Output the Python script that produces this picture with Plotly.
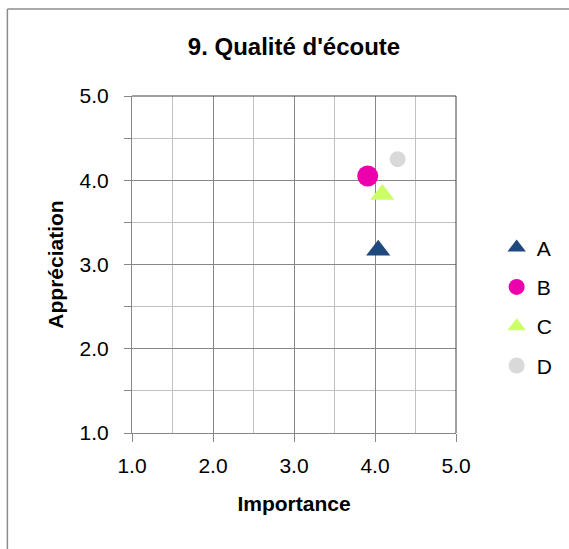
import plotly.graph_objects as go

series_names = ["A", "B", "C", "D"]
importance = [4.04, 3.91, 4.09, 4.28]
appreciation = [3.17, 4.05, 3.83, 4.25]
colors = ["#1F497D", "#EC00AC", "#CCFF66", "#D9D9D9"]
symbols = ["triangle-up", "circle", "triangle-up", "circle"]
sizes = [21, 21, 21, 16]
tick_vals = [1.0, 2.0, 3.0, 4.0, 5.0]
tick_text = ["1.0", "2.0", "3.0", "4.0", "5.0"]

FONT = "Liberation Sans, Arial, sans-serif"

fig = go.Figure()
for name, x, y, c, s, sz in zip(series_names, importance, appreciation, colors, symbols, sizes):
    fig.add_trace(go.Scatter(
        x=[x], y=[y], mode="markers", name=name, legendgroup=name,
        marker=dict(color=c, symbol=s, size=sz, line=dict(width=0)),
    ))

major_grid = "#878787"
minor_grid = "#C0C0C0"

W, H = 569, 549
L, T = 132, 96
PW, PH = 325, 337

border_top = (T + PH - 9) / PH
border_left = (7 - L) / PW

fig.update_layout(
    width=W, height=H,
    margin=dict(l=L, r=W - L - PW, t=T, b=H - T - PH),
    paper_bgcolor="white", plot_bgcolor="white",
    font=dict(family=FONT, size=21, color="black"),
    title=dict(text="<b>9. Qualité d'écoute</b>", x=0.5, xref="paper",
               y=1 - 47 / H, yref="container", yanchor="middle",
               font=dict(size=24, family=FONT, color="black")),
    showlegend=True,
    legend=dict(x=1.122, xanchor="left", y=0.374, yanchor="middle",
                traceorder="grouped", tracegroupgap=9,
                font=dict(size=21, family=FONT, color="black"),
                bgcolor="rgba(0,0,0,0)"),
    xaxis=dict(range=[1, 5], tickvals=tick_vals, ticktext=tick_text,
               showgrid=True, gridcolor=major_grid, gridwidth=1,
               showline=True, linecolor=major_grid, linewidth=1,
               ticks="outside", ticklen=8, tickcolor=major_grid,
               zeroline=False, ticklabelstandoff=6,
               minor=dict(dtick=0.5, showgrid=True, gridcolor=minor_grid, ticks=""),
               title=dict(text="<b>Importance</b>", standoff=20,
                          font=dict(size=21, family=FONT))),
    yaxis=dict(range=[1, 5], tickvals=tick_vals, ticktext=tick_text,
               showgrid=True, gridcolor=major_grid, gridwidth=1,
               showline=True, linecolor=major_grid, linewidth=1,
               ticks="outside", ticklen=7, tickcolor=major_grid,
               zeroline=False, ticklabelstandoff=11,
               minor=dict(dtick=0.5, showgrid=True, gridcolor=minor_grid,
                          ticks="outside", ticklen=7, tickcolor=major_grid),
               title=dict(text="<b>Appréciation</b>", standoff=10,
                          font=dict(size=21, family=FONT))),
    shapes=[
        dict(type="line", xref="paper", yref="paper", x0=0, x1=1, y0=1, y1=1,
             line=dict(color="#404040", width=1), layer="above"),
        dict(type="line", xref="paper", yref="paper", x0=1, x1=1, y0=0, y1=1,
             line=dict(color="#404040", width=1), layer="above"),
        # outer chart border (left and top edges visible in the frame)
        dict(type="line", xref="paper", yref="paper",
             x0=border_left, x1=(W + 20 - L) / PW, y0=border_top, y1=border_top,
             line=dict(color="#8C8C8C", width=1.5), layer="above"),
        dict(type="line", xref="paper", yref="paper",
             x0=border_left, x1=border_left, y0=-(H + 20 - T - PH) / PH, y1=border_top,
             line=dict(color="#8C8C8C", width=1.5), layer="above"),
    ],
)

fig.write_html("out.html", config={"displayModeBar": False},
               post_script="document.body.style.margin='0';document.body.style.overflow='hidden';")
